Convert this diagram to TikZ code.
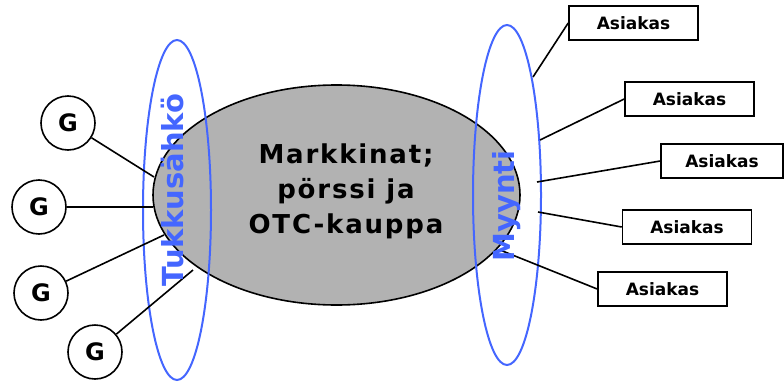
\documentclass[tikz,border=0pt]{standalone}
\usepackage{fontspec}
\setmainfont{DejaVu Sans}
\newfontfamily\mkfont[LetterSpace=7]{DejaVu Sans Bold}
\newfontfamily\bfont{DejaVu Sans Bold}
\usetikzlibrary{shapes.geometric}
\definecolor{myblue}{RGB}{68,102,255}
\definecolor{mygray}{RGB}{178,178,178}
\tikzset{
  gnode/.style={circle, draw, line width=1.6pt, fill=white, minimum size=54pt, inner sep=0pt, font=\bfont\fontsize{24}{24}\selectfont},
  abox/.style={draw, line width=1.6pt, fill=white, minimum width=129pt, minimum height=34pt, inner sep=0pt, font=\bfont\fontsize{17}{17}\selectfont},
  ring/.style={draw=myblue, ellipse, line width=2pt, minimum width=68pt, minimum height=340pt, inner sep=0pt},
  conn/.style={line width=1.6pt},
  bluetext/.style={rotate=90, text=myblue, inner sep=0pt, font=\bfont\fontsize{29}{29}\selectfont}
}
\begin{document}
\begin{tikzpicture}[x=1pt,y=-1pt]
\useasboundingbox (0,0) rectangle (784,383);
\node[draw, ellipse, fill=mygray, line width=1.6pt, minimum width=367pt, minimum height=220pt, inner sep=0pt] (mk) at (336.5,195) {};
\node[ring] (le) at (177,210) {};
\node[ring] (re) at (507,195) {};
\coordinate (e1) at (154,177);
\coordinate (e2) at (153,207);
\coordinate (e3) at (164,235);
\coordinate (e4) at (193,270);
\coordinate (r1) at (533,77);
\coordinate (r2) at (540,140);
\coordinate (r3) at (537,182);
\coordinate (r4) at (538,212);
\coordinate (r5) at (500,250);
\node[gnode] (g1) at (68,123) {G};
\node[gnode] (g2) at (39,207) {G};
\node[gnode] (g3) at (41,293) {G};
\node[gnode] (g4) at (95,352) {G};
\node[abox] (a1) at (633.5,23) {Asiakas};
\node[abox] (a2) at (689.5,99) {Asiakas};
\node[abox, minimum width=122pt] (a3) at (722,161) {Asiakas};
\node[abox] (a4) at (687,227) {Asiakas};
\node[abox] (a5) at (662.5,289) {Asiakas};
\draw[conn] (g1) -- (e1);
\draw[conn] (g2) -- (e2);
\draw[conn] (g3) -- (e3);
\draw[conn] (g4) -- (e4);
\draw[conn] (a1.west) -- (r1);
\draw[conn] (a2.west) -- (r2);
\draw[conn] (a3.west) -- (r3);
\draw[conn] (a4.west) -- (r4);
\draw[conn] (a5.west) -- (r5);
\node[align=center, font=\mkfont\fontsize{26}{35}\selectfont] (mt) at (346,191) {Markkinat;\\pörssi ja\\OTC-kauppa};
\node[bluetext] (tk) at (172.5,190) {Tukkusähkö};
\node[bluetext] (my) at (507,206) {Myynti};
\end{tikzpicture}
\end{document}
